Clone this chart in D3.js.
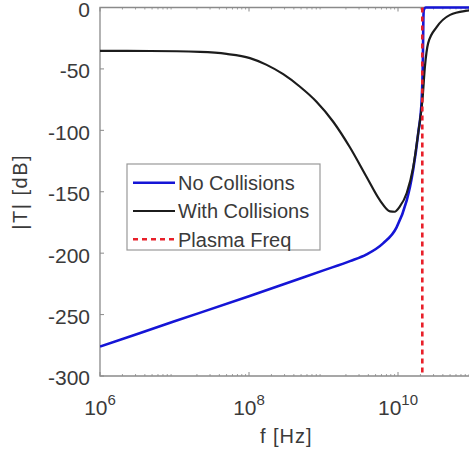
<!doctype html>
<html>
<head>
<meta charset="UTF-8">
<title>Transmission vs frequency</title>
<script src="https://d3js.org/d3.v7.min.js"></script>
<style>
  body { margin: 0; background: #fff; }
  svg text { font-family: Arial, "Liberation Sans", Helvetica, sans-serif; fill: #3a3a3a; }
</style>
</head>
<body>
<div id="chart"></div>
<script>
// values
var freqNoColl = [1e6, 1e7, 1e8, 1e9, 2.27e9, 3.79e9, 6.3e9, 9.57e9, 1.31e10, 1.45e10, 1.6e10, 1.87e10, 2.08e10, 2.16e10, 2.19e10, 2.22e10, 2.35e10, 1e11];
var dbNoColl   = [-276, -255.5, -235, -214, -206.5, -201, -192, -179, -157, -146, -132, -102, -75, -40, -10, -2, 0, 0];

var freqColl = [1e6, 4.7e6, 2.2e7, 5e7, 1.03e8, 1.7e8, 2.88e8, 4.84e8, 8e8, 1.35e9, 2.27e9, 3.79e9, 5.73e9, 7.82e9, 9e9, 1.06e10, 1.31e10, 1.6e10, 1.87e10, 2.13e10, 2.3e10, 2.54e10, 3.3e10, 5e10, 8.4e10, 1e11];
var dbColl   = [-35.3, -35.4, -36.2, -37.8, -41.2, -46.5, -54.3, -64.5, -76.5, -93, -114, -138, -157, -166, -166.3, -162, -151, -130, -102, -75, -48, -29, -16, -6, -2.6, -2];

var plasmaFreq = 2.12e10;

var xTicks = [1e6, 1e8, 1e10];
var yTicks = [0, -50, -100, -150, -200, -250, -300];
var legendLabels = ["No Collisions", "With Collisions", "Plasma Freq"];

var W = 469, H = 456;
var pL = 100, pT = 7.5, pR = 472.5, pB = 376;

var svg = d3.select("#chart").append("svg")
    .attr("width", W)
    .attr("height", H);

var x = d3.scaleLog().domain([1e6, 1e11]).range([pL, pR]);
var y = d3.scaleLinear().domain([-300, 0]).range([pB, pT]);

// minor ticks for the log axis
var minor = [];
for (var e = 6; e < 11; e++) {
    for (var m = 2; m <= 9; m++) minor.push(m * Math.pow(10, e));
}

var axisColor = "#8a8a8a";

svg.append("g").selectAll("line.minor")
    .data(minor)
    .enter().append("line")
    .attr("x1", d => x(d)).attr("x2", d => x(d))
    .attr("y1", pB).attr("y2", pB - 2)
    .attr("stroke", axisColor).attr("stroke-width", 0.8);

svg.append("g").selectAll("line.minorTop")
    .data(minor)
    .enter().append("line")
    .attr("x1", d => x(d)).attr("x2", d => x(d))
    .attr("y1", pT).attr("y2", pT + 2)
    .attr("stroke", axisColor).attr("stroke-width", 0.8);

svg.append("g").selectAll("line.major")
    .data(xTicks)
    .enter().append("line")
    .attr("x1", d => x(d)).attr("x2", d => x(d))
    .attr("y1", pB).attr("y2", pB - 4)
    .attr("stroke", axisColor).attr("stroke-width", 1);

svg.append("g").selectAll("line.majorTop")
    .data(xTicks)
    .enter().append("line")
    .attr("x1", d => x(d)).attr("x2", d => x(d))
    .attr("y1", pT).attr("y2", pT + 4)
    .attr("stroke", axisColor).attr("stroke-width", 1);

svg.append("g").selectAll("line.ytick")
    .data(yTicks)
    .enter().append("line")
    .attr("x1", pL).attr("x2", pL + 4)
    .attr("y1", d => y(d)).attr("y2", d => y(d))
    .attr("stroke", axisColor).attr("stroke-width", 1);

// axes box (right side is outside the picture)
svg.append("path")
    .attr("d", "M" + pR + "," + pT + "H" + pL + "V" + pB + "H" + pR)
    .attr("fill", "none")
    .attr("stroke", axisColor)
    .attr("stroke-width", 1.3);

// tick labels
svg.append("g").selectAll("text.ylab")
    .data(yTicks)
    .enter().append("text")
    .attr("x", pL - 10)
    .attr("y", d => y(d))
    .attr("dy", "0.45em")
    .attr("text-anchor", "end")
    .attr("font-size", 21)
    .text(d => d);

var xl = svg.append("g").selectAll("text.xlab")
    .data(xTicks)
    .enter().append("text")
    .attr("x", d => x(d))
    .attr("y", 415)
    .attr("text-anchor", "middle")
    .attr("font-size", 21);
xl.append("tspan").text("10");
xl.append("tspan")
    .attr("dy", -10)
    .attr("font-size", 15)
    .text(d => Math.round(Math.log10(d)));

svg.append("text")
    .attr("x", (pL + pR) / 2)
    .attr("y", 443)
    .attr("text-anchor", "middle")
    .attr("font-size", 20)
    .attr("letter-spacing", 1)
    .text("f [Hz]");

svg.append("text")
    .attr("transform", "translate(27," + ((pT + pB) / 2) + ") rotate(-90)")
    .attr("text-anchor", "middle")
    .attr("font-size", 20)
    .attr("letter-spacing", 1.5)
    .text("|T| [dB]");

// curves
svg.append("defs").append("clipPath").attr("id", "plotclip")
    .append("rect").attr("x", pL).attr("y", pT - 2)
    .attr("width", pR - pL).attr("height", pB - pT + 4);

var line = d3.line()
    .x(d => x(d[0]))
    .y(d => y(d[1]))
    .curve(d3.curveMonotoneX);

var plot = svg.append("g").attr("clip-path", "url(#plotclip)");

plot.append("path")
    .datum(d3.zip(freqNoColl, dbNoColl))
    .attr("d", line)
    .attr("fill", "none")
    .attr("stroke", "#1515d6")
    .attr("stroke-width", 2.6);

plot.append("path")
    .datum(d3.zip(freqColl, dbColl))
    .attr("d", line)
    .attr("fill", "none")
    .attr("stroke", "#1c1c1c")
    .attr("stroke-width", 2.2);

plot.append("line")
    .attr("x1", x(plasmaFreq)).attr("x2", x(plasmaFreq))
    .attr("y1", y(0)).attr("y2", y(-300))
    .attr("stroke", "#e8202a")
    .attr("stroke-width", 2.6)
    .attr("stroke-dasharray", "5,4");

// legend
var lg = svg.append("g").attr("transform", "translate(127,164)");
lg.append("rect")
    .attr("width", 193).attr("height", 86)
    .attr("fill", "#fff")
    .attr("stroke", "#999")
    .attr("stroke-width", 1.2);

var legendStyles = [
    { color: "#1515d6", dash: null, width: 2.6 },
    { color: "#1c1c1c", dash: null, width: 2.2 },
    { color: "#e8202a", dash: "5,4", width: 2.6 }
];

var rows = lg.selectAll("g.row")
    .data(legendLabels)
    .enter().append("g")
    .attr("transform", (d, i) => "translate(0," + (18.7 + i * 28.3) + ")");

rows.append("line")
    .attr("x1", 6).attr("x2", 48)
    .attr("stroke", (d, i) => legendStyles[i].color)
    .attr("stroke-width", (d, i) => legendStyles[i].width)
    .attr("stroke-dasharray", (d, i) => legendStyles[i].dash);

rows.append("text")
    .attr("x", 51)
    .attr("dy", "0.36em")
    .attr("font-size", 20)
    .text(d => d);
</script>
</body>
</html>
